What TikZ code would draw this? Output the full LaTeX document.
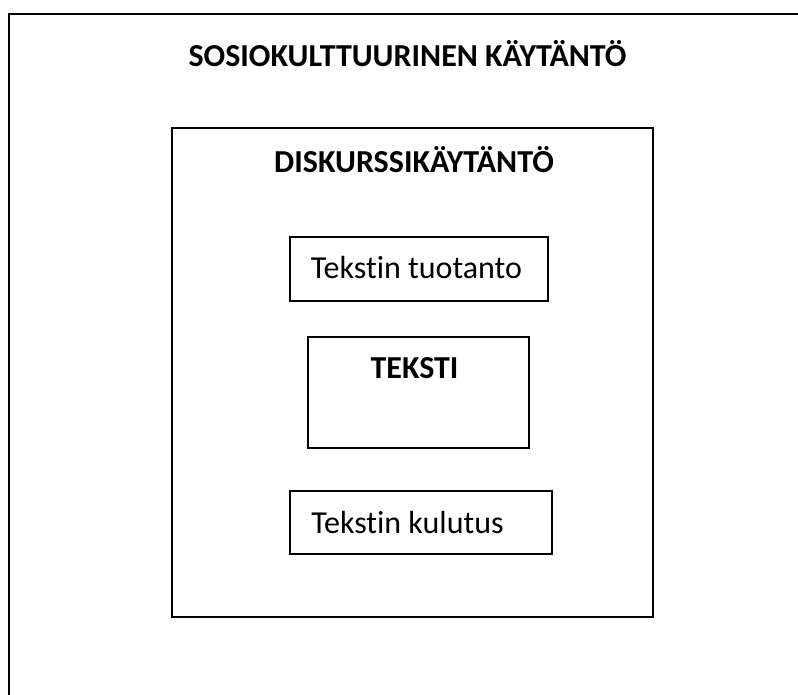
\documentclass[tikz,border=0pt]{standalone}
\usepackage{fontspec}
\setmainfont{Carlito}[Ligatures={NoCommon}]
\begin{document}
\begin{tikzpicture}[x=1pt,y=-1pt,
  box/.style={draw=black,line width=2pt,rectangle,inner sep=0pt},
  lbl/.style={anchor=base,inner sep=0pt,font=\fontsize{32}{38}\selectfont},
  blbl/.style={lbl,font=\fontsize{32}{38}\selectfont\bfseries}]
\useasboundingbox (0,0) rectangle (798,695);
\fill[white] (0,0) rectangle (798,695);
% outer frame (only top and left edges visible)
\draw[line width=2.5pt] (798,14) -- (9,14) -- (9,695);
\node[blbl] (sosio) at (407.5,67) {SOSIOKULTTUURINEN KÄYTÄNTÖ};
% discourse box
\node[box,minimum width=481pt,minimum height=489pt] (disk) at (412.5,372.5) {};
\node[blbl] (disklbl) at (414,173) {DISKURSSIKÄYTÄNTÖ};
% production
\node[box,minimum width=258pt,minimum height=64pt] (tuot) at (419,269) {};
\node[lbl] (tuotlbl) at (416.5,279) {Tekstin tuotanto};
% text
\node[box,minimum width=221pt,minimum height=111pt] (teksti) at (418.5,392.5) {};
\node[blbl] (tekstilbl) at (414.5,378) {TEKSTI};
% consumption
\node[box,minimum width=262pt,minimum height=63pt] (kulu) at (421,522.5) {};
\node[lbl] (kululbl) at (407.5,533) {Tekstin kulutus};
\end{tikzpicture}
\end{document}
